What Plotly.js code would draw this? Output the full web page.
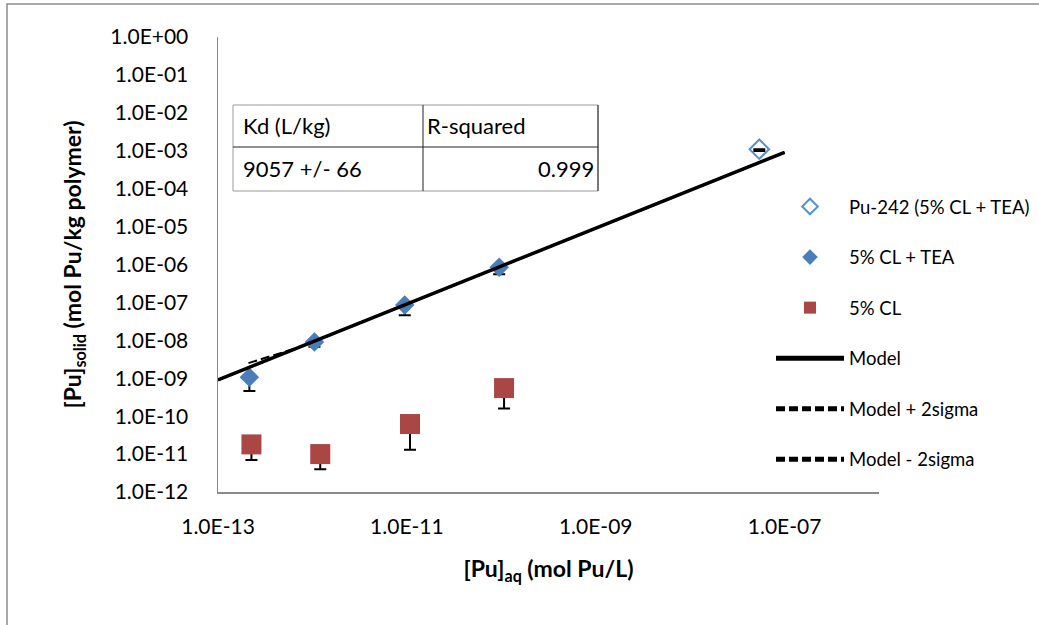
<!DOCTYPE html>
<html>
<head>
<meta charset="utf-8">
<script src="https://cdn.plot.ly/plotly-3.0.1.min.js"></script>
<style>html,body{margin:0;padding:0;background:#fff;}#chart{width:1039px;height:625px;}</style>
</head>
<body>
<div id="chart"></div>
<script>
// ---- data ----
const pu242X = [5.4e-8];
const pu242Y = [1.1e-3];
const pu242ErrMinus = [1.2e-4];

const teaX = [2.15e-13, 1.05e-12, 9.5e-12, 9.5e-11];
const teaY = [1.07e-9, 9.0e-9, 8.5e-8, 8.5e-7];
const teaErrMinus = [6.1e-10, 2.2e-9, 3.9e-8, 3.0e-7];

const clX = [2.26e-13, 1.21e-12, 1.08e-11, 1.07e-10];
const clY = [1.8e-11, 1.0e-11, 6.2e-11, 5.5e-10];
const clErrMinus = [1.1e-11, 6.0e-12, 4.9e-11, 3.9e-10];

const modelX = [1e-13, 1e-7];
const modelY = [9.06e-10, 9.06e-4];
const modelPlusX = [2.1e-13, 7.4e-13, 1e-7];
const modelPlusY = [2.5e-9, 6.7e-9, 9.19e-4];
const modelMinusX = [1e-13, 1e-7];
const modelMinusY = [8.93e-10, 8.93e-4];

const seriesNames = ["Pu-242 (5% CL + TEA)", "5% CL + TEA", "5% CL", "Model", "Model + 2sigma", "Model - 2sigma"];

const yTickVals = [1, 1e-1, 1e-2, 1e-3, 1e-4, 1e-5, 1e-6, 1e-7, 1e-8, 1e-9, 1e-10, 1e-11, 1e-12];
const yTickText = ["1.0E+00", "1.0E-01", "1.0E-02", "1.0E-03", "1.0E-04", "1.0E-05", "1.0E-06", "1.0E-07", "1.0E-08", "1.0E-09", "1.0E-10", "1.0E-11", "1.0E-12"];
const xTickVals = [1e-13, 1e-11, 1e-9, 1e-7];
const xTickText = ["1.0E-13", "1.0E-11", "1.0E-09", "1.0E-07"];

const tableHeaders = ["Kd (L/kg)", "R-squared"];
const tableValues = ["9057 +/- 66", "0.999"];

// ---- layout helpers (pixel -> paper) ----
const L = 218, R = 879, T = 37, B = 492;
const px = v => (v - L) / (R - L);
const py = v => (B - v) / (B - T);

const FONT = "Lato, 'Open Sans', sans-serif";
const blue = "#4a7ebb";
const red = "#aa4643";

function errMinus(arr) {
  return {type: "data", symmetric: false, array: arr.map(() => 0), arrayminus: arr,
          color: "#000", thickness: 2, width: 6};
}

const traces = [
  {x: pu242X, y: pu242Y, name: seriesNames[0], mode: "markers", type: "scatter", legendgroup: "a",
   marker: {symbol: "diamond-open", size: 15, color: "#5b8fd0", line: {width: 2, color: "#5b8fd0"}},
   error_y: errMinus(pu242ErrMinus)},
  {x: teaX, y: teaY, name: seriesNames[1], mode: "markers", type: "scatter", legendgroup: "b",
   marker: {symbol: "diamond", size: 15, color: blue},
   error_y: errMinus(teaErrMinus)},
  {x: clX, y: clY, name: seriesNames[2], mode: "markers", type: "scatter", legendgroup: "c",
   marker: {symbol: "square", size: 20, color: red},
   error_y: errMinus(clErrMinus)},
  {x: modelX, y: modelY, name: seriesNames[3], mode: "lines", type: "scatter", legendgroup: "d",
   line: {color: "#000", width: 3.5}},
  {x: modelPlusX, y: modelPlusY, name: seriesNames[4], mode: "lines", type: "scatter", legendgroup: "e",
   line: {color: "#000", width: 2, dash: "9px,4px"}},
  {x: modelMinusX, y: modelMinusY, name: seriesNames[5], mode: "lines", type: "scatter", legendgroup: "f",
   line: {color: "#000", width: 2, dash: "9px,4px"}}
];

// table geometry (pixels)
const tL = 233, tM = 423, tR = 598, tT = 105, tMid = 147, tB = 191;
const shapes = [
  {type: "rect", xref: "paper", yref: "paper", x0: px(7), x1: px(1050), y0: py(640), y1: py(4),
   line: {color: "#8c8c8c", width: 1.5}, fillcolor: "rgba(0,0,0,0)", layer: "below"},
  {type: "rect", xref: "paper", yref: "paper", x0: px(tL), x1: px(tR), y0: py(tB), y1: py(tT),
   line: {color: "#9a9a9a", width: 1}, fillcolor: "#fff", layer: "above"},
  {type: "line", xref: "paper", yref: "paper", x0: px(tL), x1: px(tR), y0: py(tMid), y1: py(tMid),
   line: {color: "#222", width: 1}},
  {type: "line", xref: "paper", yref: "paper", x0: px(tM), x1: px(tM), y0: py(tB), y1: py(tT),
   line: {color: "#222", width: 1}},
  {type: "line", xref: "paper", yref: "paper", x0: px(tR), x1: px(tR), y0: py(tB), y1: py(tT),
   line: {color: "#222", width: 1}}
];

const tf = {family: FONT, size: 22, color: "#000"};
const annotations = [
  {xref: "paper", yref: "paper", x: px(tL + 8), y: py((tT + tMid) / 2), text: tableHeaders[0], showarrow: false, xanchor: "left", yanchor: "middle", font: tf},
  {xref: "paper", yref: "paper", x: px(tM + 2), y: py((tT + tMid) / 2), text: tableHeaders[1], showarrow: false, xanchor: "left", yanchor: "middle", font: tf},
  {xref: "paper", yref: "paper", x: px(tL + 8), y: py((tMid + tB) / 2), text: tableValues[0], showarrow: false, xanchor: "left", yanchor: "middle", font: tf},
  {xref: "paper", yref: "paper", x: px(tR - 2), y: py((tMid + tB) / 2), text: tableValues[1], showarrow: false, xanchor: "right", yanchor: "middle", font: tf}
];

const layout = {
  width: 1039, height: 625,
  margin: {l: L, r: 1039 - R, t: T, b: 625 - B, pad: 0, autoexpand: false},
  paper_bgcolor: "#fff", plot_bgcolor: "#fff",
  font: {family: FONT, size: 21, color: "#000"},
  showlegend: true,
  legend: {x: px(771), y: py(188), xanchor: "left", yanchor: "top", bgcolor: "rgba(0,0,0,0)",
           font: {family: FONT, size: 18.5, color: "#000"}, tracegroupgap: 23.5, itemsizing: "constant",
           itemwidth: 68, traceorder: "grouped"},
  xaxis: {type: "log", range: [-13, -6], tickvals: xTickVals, ticktext: xTickText,
          showgrid: false, zeroline: false, showline: true, linecolor: "#8a8a8a", linewidth: 1.5,
          ticks: "", ticklabelstandoff: 15, tickfont: {family: FONT, size: 21, color: "#000"},
          title: {text: "<b>[Pu]<sub>aq</sub> (mol Pu/L)</b>", font: {family: FONT, size: 23, color: "#000"}, standoff: 24}},
  yaxis: {type: "log", range: [-12, 0], tickvals: yTickVals, ticktext: yTickText,
          showgrid: false, zeroline: false, showline: true, linecolor: "#8a8a8a", linewidth: 1.5,
          ticks: "", ticklabelstandoff: 24, tickfont: {family: FONT, size: 21, color: "#000"},
          title: {text: "<b>[Pu]<sub>solid</sub> (mol Pu/kg polymer)</b>", font: {family: FONT, size: 23, color: "#000"}, standoff: 22}},
  shapes: shapes,
  annotations: annotations
};

Plotly.newPlot("chart", traces, layout, {displayModeBar: false, staticPlot: true});
</script>
</body>
</html>
